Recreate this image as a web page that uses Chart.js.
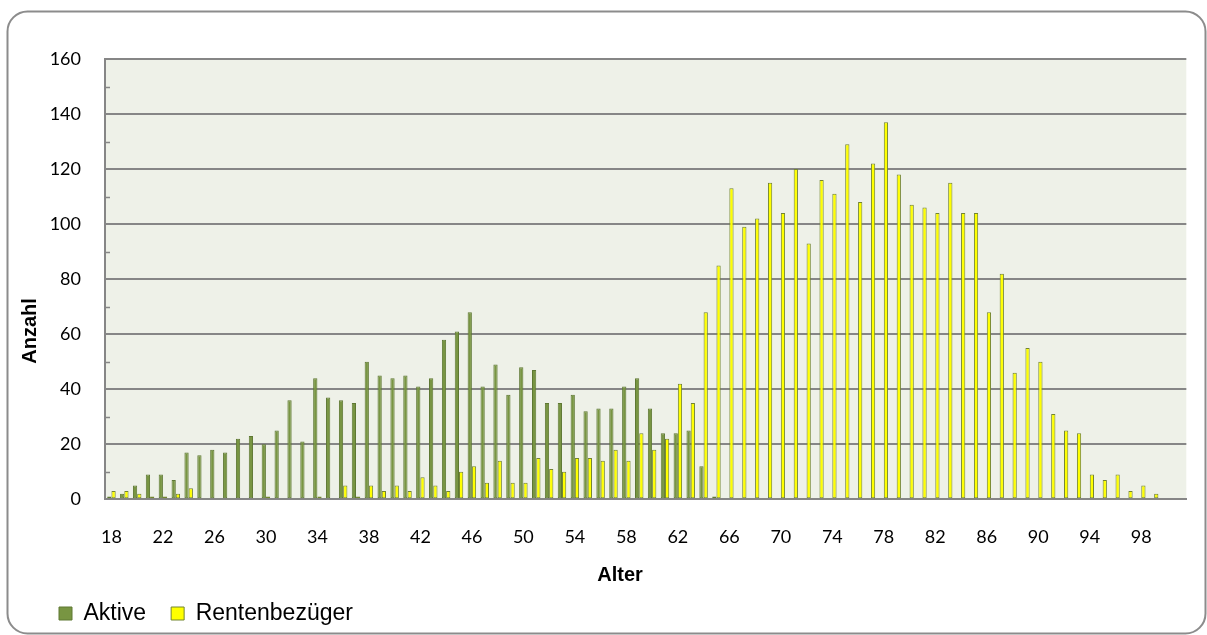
<!DOCTYPE html>
<html>
<head>
<meta charset="utf-8">
<script src="https://cdn.jsdelivr.net/npm/chart.js@4.4.1/dist/chart.umd.min.js"></script>
<style>
  html, body { margin: 0; padding: 0; background: #fff; }
  #wrap { width: 1207px; height: 635px; }
</style>
</head>
<body>
<div id="wrap"><canvas id="ageChart" width="1207" height="635"></canvas></div>
<script>
// Altersverteilung Aktive / Rentenbezüger

const ages = [
  18, 19, 20, 21, 22, 23, 24, 25, 26, 27, 28, 29, 30, 31, 32, 33, 34, 35, 36, 37,
  38, 39, 40, 41, 42, 43, 44, 45, 46, 47, 48, 49, 50, 51, 52, 53, 54, 55, 56, 57,
  58, 59, 60, 61, 62, 63, 64, 65, 66, 67, 68, 69, 70, 71, 72, 73, 74, 75, 76, 77,
  78, 79, 80, 81, 82, 83, 84, 85, 86, 87, 88, 89, 90, 91, 92, 93, 94, 95, 96, 97,
  98, 99, 100, 101
];

const aktive = [
  1, 2, 5, 9, 9, 7, 17, 16, 18, 17, 22, 23, 20, 25, 36, 21, 44, 37, 36, 35,
  50, 45, 44, 45, 41, 44, 58, 61, 68, 41, 49, 38, 48, 47, 35, 35, 38, 32, 33, 33,
  41, 44, 33, 24, 24, 25, 12, 1, 0, 0, 0, 0, 0, 0, 0, 0, 0, 0, 0, 0,
  0, 0, 0, 0, 0, 0, 0, 0, 0, 0, 0, 0, 0, 0, 0, 0, 0, 0, 0, 0,
  0, 0, 0, 0
];

const rentenbezueger = [
  3, 3, 2, 1, 1, 2, 4, 0, 0, 0, 0, 0, 1, 0, 0, 0, 1, 0, 5, 1,
  5, 3, 5, 3, 8, 5, 3, 10, 12, 6, 14, 6, 6, 15, 11, 10, 15, 15, 14, 18,
  14, 24, 18, 22, 42, 35, 68, 85, 113, 99, 102, 115, 104, 120, 93, 116, 111, 129, 108, 122,
  137, 118, 107, 106, 104, 115, 104, 104, 68, 82, 46, 55, 50, 31, 25, 24, 9, 7, 9, 3,
  5, 2, 0, 0
];

const xTickLabels = [18, 22, 26, 30, 34, 38, 42, 46, 50, 54, 58, 62, 66, 70, 74, 78, 82, 86, 90, 94, 98];
const minorTicks = [10, 30, 50, 70, 90, 110, 130, 150];

const GRID = "#868686";

Chart.defaults.font.family = "Lato";
Chart.defaults.color = "#000";

// -------------------------------
// frame, plot background, titles
// -------------------------------
const chartFrame = {
  id: "chartFrame",
  beforeDraw(chart) {
    const ctx = chart.ctx;
    const a = chart.chartArea;
    ctx.save();
    ctx.fillStyle = "#ffffff";
    ctx.fillRect(0, 0, chart.width, chart.height);
    ctx.fillStyle = "#EEF1E8";
    ctx.fillRect(a.left, a.top, a.right - a.left, a.bottom - a.top);
    ctx.strokeStyle = "#8c8c8c";
    ctx.lineWidth = 2;
    ctx.beginPath();
    ctx.roundRect(7.5, 11.5, 1198, 622, 20);
    ctx.stroke();
    ctx.restore();
  },
  afterDraw(chart) {
    const ctx = chart.ctx;
    const y = chart.scales.y;
    const a = chart.chartArea;
    ctx.save();
    // small inner ticks between the gridlines
    ctx.strokeStyle = GRID;
    ctx.lineWidth = 1.5;
    minorTicks.forEach(v => {
      const py = Math.round(y.getPixelForValue(v)) + 0.5;
      ctx.beginPath();
      ctx.moveTo(a.left, py);
      ctx.lineTo(a.left + 5, py);
      ctx.stroke();
    });
    // axis titles
    ctx.fillStyle = "#000";
    ctx.font = "bold 20px 'Liberation Sans'";
    ctx.textAlign = "center";
    ctx.textBaseline = "middle";
    ctx.fillText("Alter", 620, 575);
    ctx.translate(30, 331);
    ctx.rotate(-Math.PI / 2);
    ctx.fillText("Anzahl", 0, 0);
    ctx.restore();
  }
};

new Chart(document.getElementById("ageChart"), {
  type: "bar",
  data: {
    labels: ages,
    datasets: [
      {
        label: "Aktive",
        data: aktive,
        backgroundColor: "#789542",
        borderColor: "#5E7833",
        borderWidth: 1,
        borderSkipped: false,
        barPercentage: 1,
        categoryPercentage: 0.66
      },
      {
        label: "Rentenbezüger",
        data: rentenbezueger,
        backgroundColor: "#FFFF00",
        borderColor: "#738530",
        borderWidth: 1,
        borderSkipped: false,
        barPercentage: 1,
        categoryPercentage: 0.66
      }
    ]
  },
  options: {
    responsive: false,
    animation: false,
    layout: { padding: { left: 34, top: 59, right: 19, bottom: 0 } },
    plugins: {
      tooltip: { enabled: false },
      legend: {
        position: "bottom",
        align: "start",
        labels: {
          font: { family: "Liberation Sans", size: 23 },
          boxWidth: 13,
          boxHeight: 13,
          padding: 25,
          color: "#000"
        }
      }
    },
    scales: {
      x: {
        grid: { display: false, drawTicks: false },
        border: { display: true, color: GRID, width: 2 },
        ticks: {
          autoSkip: false,
          maxRotation: 0,
          padding: 27,
          font: { size: 18 },
          callback: function (value, index) {
            return xTickLabels.includes(ages[index]) ? String(ages[index]) : "";
          }
        },
        afterFit: s => { s.height = 77.7; }
      },
      y: {
        min: 0,
        max: 160,
        grid: { color: GRID, lineWidth: 2, drawTicks: false },
        border: { display: true, color: GRID, width: 2 },
        ticks: { stepSize: 20, padding: 24, font: { size: 18 } },
        afterFit: s => { s.width = 71; }
      }
    }
  },
  plugins: [chartFrame]
});
</script>
</body>
</html>
